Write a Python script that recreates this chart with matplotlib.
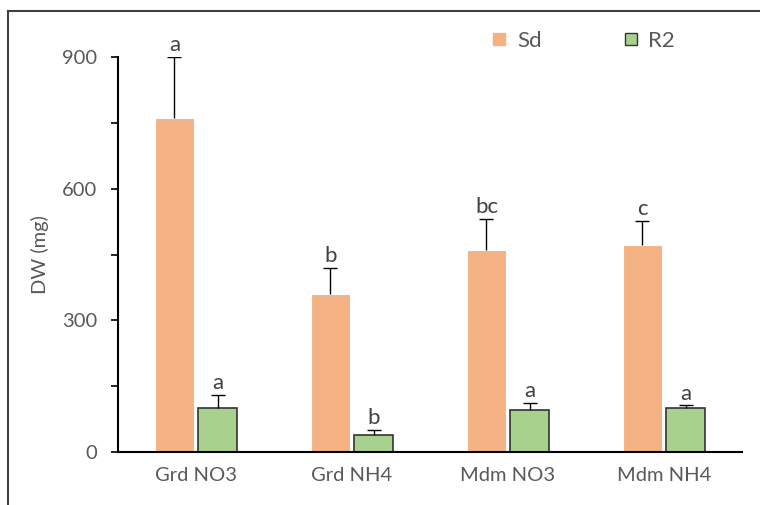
"""Dry weight of Sd and R2 under different N treatments."""

import numpy as np
import matplotlib
matplotlib.use('Agg')
import matplotlib.pyplot as plt
from matplotlib.lines import Line2D
from matplotlib.ticker import MultipleLocator


categories = ['Grd NO3', 'Grd NH4', 'Mdm NO3', 'Mdm NH4']
sd_mean = [761, 360, 460, 472]
sd_err = [139, 59, 71, 54]
r2_mean = [100, 39, 96, 101]
r2_err = [30, 11, 16, 5]
sd_letters = ['a', 'b', 'bc', 'c']
r2_letters = ['a', 'b', 'a', 'a']

SD_COLOR = '#F4B183'
R2_COLOR = '#A9D18E'
TEXT_COLOR = '#595959'

plt.rcParams['font.family'] = ['Lato', 'DejaVu Sans']


def upper_errbars(ax, xs, means, errs):
    """Draw only the upper half of the error bars."""
    _, caps, _ = ax.errorbar(xs, means, yerr=[np.zeros(len(errs)), errs],
                             fmt='none', ecolor='black', elinewidth=1.0,
                             capsize=5, capthick=1.0, zorder=3)
    caps[0].set_visible(False)


def main():
    fig = plt.figure(figsize=(7.6, 5.05), dpi=100)
    ax = fig.add_axes([118 / 760, 1 - 452 / 505, 624 / 760, 395 / 505])

    x = np.arange(len(categories))
    width = 0.25
    off = 0.138

    ax.bar(x - off, sd_mean, width, color=SD_COLOR, edgecolor='white',
           linewidth=0.8, label='Sd', zorder=2)
    ax.bar(x + off, r2_mean, width, color=R2_COLOR, edgecolor='#333333',
           linewidth=1.2, label='R2', zorder=2)

    upper_errbars(ax, x - off, sd_mean, sd_err)
    upper_errbars(ax, x + off, r2_mean, r2_err)

    for xi, m, e, lab in zip(x - off, sd_mean, sd_err, sd_letters):
        ax.text(xi, m + e + 4, lab, ha='center', va='bottom', fontsize=16,
                color='#404040', clip_on=False)
    for xi, m, e, lab in zip(x + off, r2_mean, r2_err, r2_letters):
        ax.text(xi, m + e + 4, lab, ha='center', va='bottom', fontsize=16,
                color='#404040', clip_on=False)

    ax.set_xlim(-0.5, 3.5)
    ax.set_ylim(0, 900)
    ax.yaxis.set_major_locator(MultipleLocator(300))
    ax.yaxis.set_minor_locator(MultipleLocator(150))
    ax.set_xticks(x)
    ax.set_xticklabels(categories)
    ax.tick_params(axis='x', length=0, pad=11, labelsize=14.5,
                   labelcolor=TEXT_COLOR)
    ax.tick_params(axis='y', which='both', direction='out', length=5,
                   width=1.2, color='black', labelsize=14.5,
                   labelcolor=TEXT_COLOR, pad=10)

    for side in ['top', 'right']:
        ax.spines[side].set_visible(False)
    for side in ['left', 'bottom']:
        ax.spines[side].set_linewidth(1.5)
        ax.spines[side].set_color('black')

    ax.set_ylabel('DW (mg)', fontsize=14.5, color=TEXT_COLOR, labelpad=9)

    handles = [
        Line2D([0], [0], marker='s', color='none', markerfacecolor=SD_COLOR,
               markeredgecolor=SD_COLOR, markersize=8.5, label='Sd'),
        Line2D([0], [0], marker='s', color='none', markerfacecolor=R2_COLOR,
               markeredgecolor='#333333', markersize=8.5, label='R2'),
    ]
    leg = ax.legend(handles=handles, loc='center', ncol=2, frameon=False,
                    bbox_to_anchor=(0.745, 1.04), fontsize=16,
                    columnspacing=3.6, handlelength=0.8, handletextpad=0.4)
    for t in leg.get_texts():
        t.set_color(TEXT_COLOR)

    # outer frame (only top and left edges fall inside the image)
    fig.add_artist(Line2D([8 / 760, 8 / 760], [0, 1 - 11 / 505],
                          transform=fig.transFigure, color='#404040', lw=1.5))
    fig.add_artist(Line2D([8 / 760, 1], [1 - 11 / 505, 1 - 11 / 505],
                          transform=fig.transFigure, color='#404040', lw=1.5))

    fig.savefig('out.png', dpi=100)
    plt.close(fig)


if __name__ == '__main__':
    main()
